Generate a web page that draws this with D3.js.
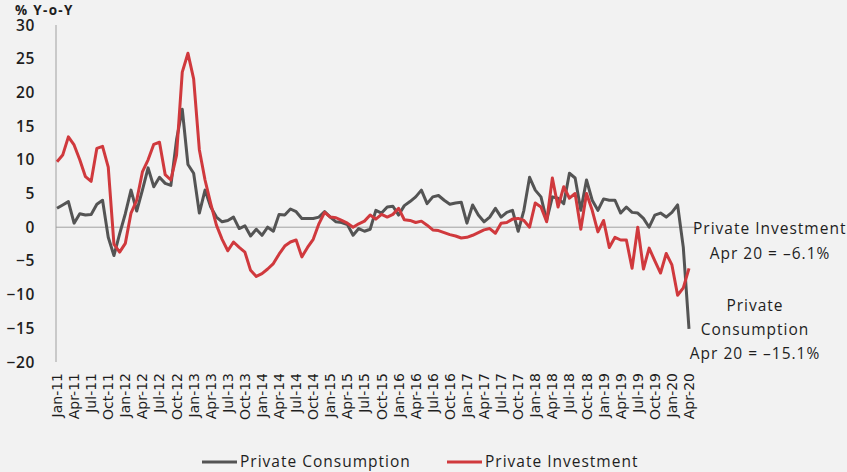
<!DOCTYPE html>
<html>
<head>
<meta charset="utf-8">
<script src="https://cdn.jsdelivr.net/npm/d3@7"></script>
<style>
  body { margin: 0; background: #f2f2f2; }
  svg { display: block; font-family: "Open Sans", "Noto Sans", sans-serif; }
</style>
</head>
<body>
<svg id="root" width="847" height="472"></svg>
<script>
// months Jan-11 .. Apr-20
const monthNames = ["Jan", "Feb", "Mar", "Apr", "May", "Jun", "Jul", "Aug", "Sep", "Oct", "Nov", "Dec"];
const years = ["11", "12", "13", "14", "15", "16", "17", "18", "19", "20"];

const tickLabels = [
    "Jan-11", "Apr-11", "Jul-11", "Oct-11", "Jan-12", "Apr-12", "Jul-12", "Oct-12",
    "Jan-13", "Apr-13", "Jul-13", "Oct-13", "Jan-14", "Apr-14", "Jul-14", "Oct-14",
    "Jan-15", "Apr-15", "Jul-15", "Oct-15", "Jan-16", "Apr-16", "Jul-16", "Oct-16",
    "Jan-17", "Apr-17", "Jul-17", "Oct-17", "Jan-18", "Apr-18", "Jul-18", "Oct-18",
    "Jan-19", "Apr-19", "Jul-19", "Oct-19", "Jan-20", "Apr-20",
];

const yTicks = [30, 25, 20, 15, 10, 5, 0, -5, -10, -15, -20];

// % y-o-y
const consumption = [
    2.8, 3.3, 3.8, 0.6, 2.0, 1.8, 1.9, 3.4, 4.0, -1.5, -4.2, -1.0,
    2.0, 5.5, 2.4, 5.5, 8.8, 6.0, 7.4, 6.5, 6.2, 13.0, 17.5, 9.3,
    8.0, 2.1, 5.5, 3.0, 1.5, 0.8, 1.0, 1.5, -0.2, 0.2, -1.3, -0.3,
    -1.2, 0.0, -0.6, 1.9, 1.8, 2.7, 2.3, 1.3, 1.3, 1.3, 1.5, 2.3,
    1.5, 0.8, 0.7, 0.4, -1.2, -0.2, -0.6, -0.3, 2.5, 2.1, 3.0, 3.1,
    1.8, 3.2, 3.8, 4.5, 5.5, 3.5, 4.5, 4.7, 4.0, 3.4, 3.6, 3.7,
    0.6, 3.3, 1.8, 0.8, 1.5, 2.8, 1.5, 2.2, 2.5, -0.6, 2.5, 7.4,
    5.5, 4.5, 1.0, 4.5, 4.3, 3.5, 8.0, 7.3, 2.5, 7.0, 4.0, 2.5,
    4.2, 4.0, 4.0, 2.1, 3.0, 2.2, 2.1, 1.3, 0.0, 1.8, 2.1, 1.5,
    2.2, 3.3, -3.0, -15.1,
];

const investment = [
    9.7, 10.7, 13.4, 12.2, 10.0, 7.5, 6.8, 11.7, 12.0, 8.9, -2.5, -3.7,
    -2.4, 2.1, 4.0, 8.2, 10.0, 12.3, 12.6, 7.8, 7.0, 10.7, 23.0, 25.8,
    22.0, 11.5, 7.0, 3.5, 0.3, -1.8, -3.5, -2.2, -3.0, -3.7, -6.4, -7.3,
    -6.9, -6.2, -5.4, -4.0, -2.8, -2.2, -1.9, -4.4, -3.0, -1.8, 0.5, 2.2,
    1.5, 1.4, 1.0, 0.6, 0.0, 0.5, 0.9, 1.8, 1.2, 1.9, 1.5, 1.9,
    2.8, 1.1, 1.0, 0.7, 0.9, 0.3, -0.4, -0.5, -0.8, -1.1, -1.3, -1.6,
    -1.5, -1.2, -0.8, -0.4, -0.2, -0.9, 0.6, 0.7, 1.2, 1.3, 1.0, 0.0,
    3.6, 3.0, 0.8, 7.3, 3.0, 6.0, 4.3, 5.0, -0.3, 5.0, 2.5, -0.7,
    1.0, -3.0, -1.5, -1.9, -1.9, -6.1, 0.0, -6.2, -3.1, -5.0, -6.8, -3.9,
    -5.6, -10.1, -9.0, -6.1,
];

const seriesNames = ["Private Consumption", "Private Investment"];
const seriesColors = ["#545454", "#d0393d"];

const months = years.flatMap((y) => monthNames.map((m) => `${m}-${y}`)).slice(0, consumption.length);

const main = () => {
    const svg = d3.select("#root");

    const margin = { top: 25, left: 57, bottom: 110, right: 158 };
    const dimensions = { width: 847, height: 472 };

    const xScale = d3
        .scalePoint()
        .domain(months)
        .range([margin.left, dimensions.width - margin.right]);
    const yScale = d3
        .scaleLinear()
        .domain([-20, 30])
        .range([dimensions.height - margin.bottom, margin.top]);

    // y axis line + labels
    svg.append("line")
        .attr("x1", 56).attr("x2", 56)
        .attr("y1", yScale(30)).attr("y2", yScale(-20))
        .attr("stroke", "#a0a0a0").attr("stroke-width", 1);

    svg.append("g")
        .selectAll("text")
        .data(yTicks)
        .join("text")
        .attr("x", 35)
        .attr("y", (d) => yScale(d))
        .attr("dy", "0.36em")
        .attr("text-anchor", "end")
        .attr("font-size", 15.5)
        .attr("font-weight", 600)
        .attr("letter-spacing", 0.6)
        .attr("fill", "#1e1e1e")
        .text((d) => (d < 0 ? "\u2212" + Math.abs(d) : d));

    svg.append("text")
        .attr("x", 15).attr("y", 15)
        .attr("font-size", 13.5).attr("font-weight", 700)
        .attr("letter-spacing", 1.3)
        .attr("fill", "#1e1e1e")
        .text("% Y-o-Y");

    // zero line
    svg.append("line")
        .attr("x1", 56).attr("x2", 697)
        .attr("y1", yScale(0)).attr("y2", yScale(0))
        .attr("stroke", "#a0a0a0").attr("stroke-width", 1);

    // x labels, rotated
    svg.append("g")
        .selectAll("text")
        .data(tickLabels)
        .join("text")
        .attr("transform", (d) => `translate(${xScale(d) + 5}, 373) rotate(-90)`)
        .attr("text-anchor", "end")
        .attr("font-family", "DejaVu Sans, sans-serif")
        .attr("font-size", 14)
        .attr("fill", "#1e1e1e")
        .text((d) => d);

    const line = d3
        .line()
        .x((d, i) => xScale(months[i]))
        .y((d) => yScale(d));

    [consumption, investment].forEach((values, k) => {
        svg.append("path")
            .datum(values)
            .attr("d", line)
            .attr("fill", "none")
            .attr("stroke", seriesColors[k])
            .attr("stroke-width", 3)
            .attr("stroke-linejoin", "round");
    });

    // annotations
    const note = svg.append("g")
        .attr("font-size", 15.5)
        .attr("font-weight", 500)
        .attr("letter-spacing", 1)
        .attr("fill", "#1e1e1e");
    note.append("text").attr("x", 693).attr("y", 234).text("Private Investment");
    note.append("text").attr("x", 770).attr("y", 259).attr("text-anchor", "middle").text("Apr 20 = \u20136.1%");
    note.append("text").attr("x", 755).attr("y", 311).attr("text-anchor", "middle").text("Private");
    note.append("text").attr("x", 755).attr("y", 335).attr("text-anchor", "middle").text("Consumption");
    note.append("text").attr("x", 755).attr("y", 359).attr("text-anchor", "middle").text("Apr 20 = \u201315.1%");

    // legend
    const legendX = [202, 447];
    const legend = svg.append("g")
        .selectAll("g")
        .data(seriesNames)
        .join("g")
        .attr("transform", (d, i) => `translate(${legendX[i]}, 462)`);
    legend.append("line")
        .attr("x1", 0).attr("x2", 35)
        .attr("stroke", (d, i) => seriesColors[i])
        .attr("stroke-width", 3);
    legend.append("text")
        .attr("x", 38).attr("dy", "0.35em")
        .attr("font-size", 15.5).attr("font-weight", 500)
        .attr("letter-spacing", 1)
        .attr("fill", "#1e1e1e")
        .text((d) => d);
};

main();
</script>
</body>
</html>
